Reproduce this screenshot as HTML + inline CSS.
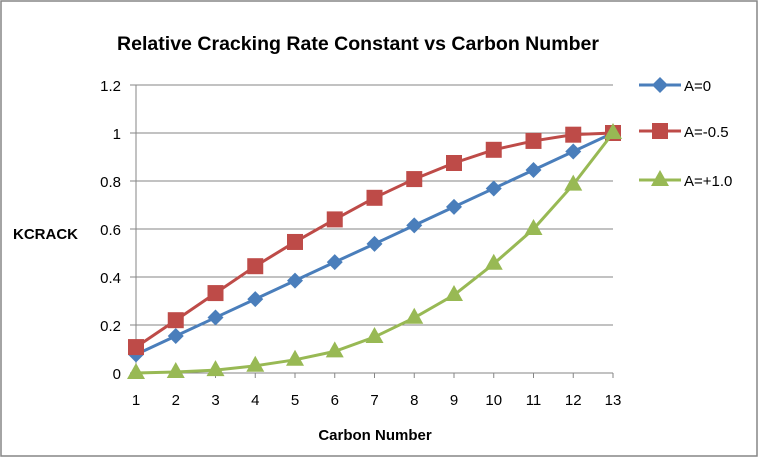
<!DOCTYPE html>
<html><head><meta charset="utf-8"><style>
body{margin:0;background:#fff}
svg{display:block;font-family:"Liberation Sans",sans-serif}
</style></head><body>
<svg id="chart" width="760" height="458">
<rect x="1" y="1" width="756" height="455" fill="#fff" stroke="#868686" stroke-width="1.5"/>
<text x="358" y="50" text-anchor="middle" font-size="19" font-weight="bold" textLength="482" lengthAdjust="spacingAndGlyphs">Relative Cracking Rate Constant vs Carbon Number</text>
<text x="13" y="239" font-size="15" font-weight="bold">KCRACK</text>
<text x="375" y="440" text-anchor="middle" font-size="15" font-weight="bold">Carbon Number</text>
<g id="grid"></g><g id="axes"></g><g id="series"></g><g id="legend"></g>
</svg>
<script>
const categories=[1,2,3,4,5,6,7,8,9,10,11,12,13];
const yTicks=[0,0.2,0.4,0.6,0.8,1,1.2];
const seriesA0=[0.077,0.154,0.231,0.308,0.385,0.462,0.538,0.615,0.692,0.769,0.846,0.923,1.0];
const seriesAm05=[0.108,0.22,0.333,0.445,0.546,0.64,0.73,0.808,0.875,0.93,0.967,0.993,1.0];
const seriesAp1=[0,0.004,0.012,0.03,0.055,0.09,0.15,0.23,0.325,0.455,0.60,0.785,1.0];
const names=["A=0","A=-0.5","A=+1.0"];
const NS="http://www.w3.org/2000/svg";
const X0=136,X1=613,Y0=373,Y1=85;
const xs=c=>X0+(c-1)*(X1-X0)/12;
const ys=v=>Y0-v*(Y0-Y1)/1.2;
function mk(t,a,p){const e=document.createElementNS(NS,t);for(const k in a)e.setAttribute(k,a[k]);p.appendChild(e);return e;}
const grid=document.getElementById('grid'),axes=document.getElementById('axes'),ser=document.getElementById('series'),leg=document.getElementById('legend');
yTicks.forEach(v=>{
 if(v>0){const l=mk('line',{x1:X0-6,x2:X1,y1:ys(v),y2:ys(v),stroke:'#868686','stroke-width':1},grid);
 
 }
 const t=mk('text',{x:X0-15,y:ys(v)+6,'text-anchor':'end','font-size':15},axes);t.textContent=v;
 
 
});
const xa=mk('line',{x1:X0-6,x2:X1,y1:Y0,y2:Y0,stroke:'#868686'},axes);


const ya=mk('line',{x1:X0,x2:X0,y1:Y1,y2:Y0,stroke:'#868686'},axes);


categories.forEach(c=>{
 mk('line',{x1:xs(c),x2:xs(c),y1:Y0,y2:Y0+5,stroke:'#868686'},axes);
 const t=mk('text',{x:xs(c),y:Y0+32,'text-anchor':'middle','font-size':15},axes);t.textContent=c;
 
 
});
function marker(type,x,y,col,p){
 if(type==0)return mk('polygon',{points:`${x},${y-8} ${x+8},${y} ${x},${y+8} ${x-8},${y}`,fill:col},p);
 if(type==1)return mk('rect',{x:x-8,y:y-8,width:16,height:16,fill:col},p);
 return mk('polygon',{points:`${x},${y-10} ${x+9},${y+6} ${x-9},${y+6}`,fill:col},p);
}
const all=[seriesA0,seriesAm05,seriesAp1],cols=['#4a7ebb','#be4b48','#98b954'];
all.forEach((s,i)=>{
 const g=mk('g',{},ser);
 
 
 mk('polyline',{points:s.map((v,j)=>xs(categories[j])+','+ys(v)).join(' '),fill:'none',stroke:cols[i],'stroke-width':3},g);
 s.forEach((v,j)=>{const m=marker(i,xs(categories[j]),ys(v),cols[i],g);
  
  });
 const ly=[85,131,180][i];
 const lg=mk('g',{},leg);
 
 
 mk('line',{x1:639,x2:681,y1:ly,y2:ly,stroke:cols[i],'stroke-width':3},lg);
 marker(i,660,ly,cols[i],lg);
 const t=mk('text',{x:684,y:ly+6,'font-size':15},lg);t.textContent=names[i];
});
</script>
</body></html>
